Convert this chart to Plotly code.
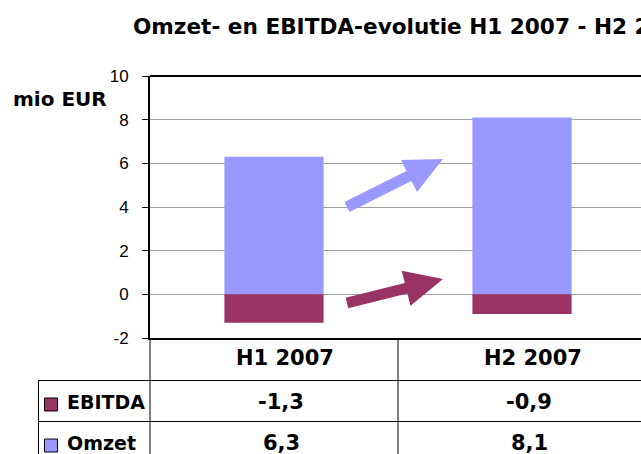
import plotly.graph_objects as go

# ---- data ----
categories = ["H1 2007", "H2 2007"]
ebitda = [-1.3, -0.9]
omzet = [6.3, 8.1]
series_names = ["EBITDA", "Omzet"]
y_ticks = [-2, 0, 2, 4, 6, 8, 10]

title_text = "Omzet- en EBITDA-evolutie H1 2007 - H2 2007"
y_unit = "mio EUR"

C_OMZET = "#9999FF"
C_EBITDA = "#993366"

W, H = 641, 454
PL, PR, PT, PB = 150, 641, 76, 338  # plot-area pixel box
CAT_PX = 248  # pixel width of one category


def pxx(px):
    return (px - PL) / (PR - PL)


def pxy(py):
    return (PB - py) / (PB - PT)


fig = go.Figure()
fig.add_trace(go.Bar(x=categories, y=omzet, name="Omzet", marker_color=C_OMZET,
                     marker_line_width=0, width=0.4, showlegend=False))
fig.add_trace(go.Bar(x=categories, y=ebitda, name="EBITDA", marker_color=C_EBITDA,
                     marker_line_width=0, width=0.4, showlegend=False))

x_max = -0.5 + (PR - PL) / CAT_PX

fig.update_layout(
    width=W, height=H,
    margin=dict(l=PL, r=W - PR, t=PT, b=H - PB, pad=0),
    paper_bgcolor="white", plot_bgcolor="white",
    barmode="relative",
    showlegend=False,
    xaxis=dict(type="category", range=[-0.5, x_max], showticklabels=False,
               showgrid=False, zeroline=False, showline=True,
               linecolor="black", linewidth=2, ticks=""),
    yaxis=dict(range=[-2, 10], tickvals=y_ticks, ticktext=[str(t) for t in y_ticks],
               ticks="outside", ticklen=6,
               tickcolor="black", tickwidth=1, showline=True, linecolor="black",
               linewidth=2, showgrid=True, gridcolor="#A0A0A0", gridwidth=1,
               zeroline=False, ticklabelstandoff=10,
               tickfont=dict(family="Liberation Sans, Arial", size=17, color="black")),
)

shapes = []
# top border of plot area
shapes.append(dict(type="line", xref="paper", yref="paper", x0=0, x1=1.02, y0=1, y1=1,
                   line=dict(color="black", width=2)))


# arrows (decorative)
def arrow(points, color):
    d = "M " + " L ".join(f"{pxx(x):.5f},{pxy(y):.5f}" for x, y in points) + " Z"
    return dict(type="path", xref="paper", yref="paper", path=d,
                fillcolor=color, line=dict(width=0), layer="above")


shapes.append(arrow([(344.5, 202.1), (406.5, 171.1), (401, 160), (443, 159),
                     (417, 192), (411.5, 180.9), (349.5, 211.9)], C_OMZET))
shapes.append(arrow([(345.7, 297.7), (404.8, 282.9), (401.7, 270.7), (443, 279),
                     (410.5, 305.7), (407.4, 293.5), (348.3, 308.3)], C_EBITDA))

# data table grid
tl = dict(color="black", width=1)
shapes.append(dict(type="line", xref="paper", yref="paper", x0=pxx(150), x1=pxx(150),
                   y0=pxy(338), y1=pxy(470), line=tl))
shapes.append(dict(type="line", xref="paper", yref="paper", x0=pxx(PL + CAT_PX), x1=pxx(PL + CAT_PX),
                   y0=pxy(338), y1=pxy(470), line=tl))
shapes.append(dict(type="line", xref="paper", yref="paper", x0=pxx(38.5), x1=pxx(38.5),
                   y0=pxy(380), y1=pxy(470), line=tl))
for yy in (380.5, 421.5):
    shapes.append(dict(type="line", xref="paper", yref="paper", x0=pxx(38), x1=1.02,
                       y0=pxy(yy), y1=pxy(yy), line=tl))

# legend keys in table
row_y = {"EBITDA": 401.5, "Omzet": 442.5}
row_col = {"EBITDA": C_EBITDA, "Omzet": C_OMZET}
for nm in series_names:
    cy = row_y[nm]
    shapes.append(dict(type="rect", xref="paper", yref="paper",
                       x0=pxx(44.5), x1=pxx(57.5), y0=pxy(cy - 6.5 + 3), y1=pxy(cy + 6.5 + 3),
                       fillcolor=row_col[nm], line=dict(color="black", width=1)))

fig.update_layout(shapes=shapes)

bold = "DejaVu Sans, Verdana, sans-serif"
ann = []
ann.append(dict(xref="paper", yref="paper", x=pxx(131), y=pxy(26), xanchor="left",
                yanchor="middle", showarrow=False, text=f"<b>{title_text}</b>",
                font=dict(family=bold, size=21.6, color="black")))
ann.append(dict(xref="paper", yref="paper", x=pxx(11), y=pxy(98.5), xanchor="left",
                yanchor="middle", showarrow=False, text=f"<b>{y_unit}</b>",
                font=dict(family=bold, size=20, color="black")))

for c in categories:
    ann.append(dict(xref="x", yref="paper", x=c, xshift=11, y=pxy(357.5),
                    xanchor="center", yanchor="middle", showarrow=False,
                    text=f"<b>{c}</b>", font=dict(family=bold, size=21, color="black")))

vals = {"EBITDA": ebitda, "Omzet": omzet}
for nm in series_names:
    ann.append(dict(xref="paper", yref="paper", x=pxx(65), y=pxy(row_y[nm]),
                    xanchor="left", yanchor="middle", showarrow=False,
                    text=f"<b>{nm}</b>", font=dict(family=bold, size=19, color="black")))
    for c, v in zip(categories, vals[nm]):
        ann.append(dict(xref="x", yref="paper", x=c, xshift=7, y=pxy(row_y[nm]),
                        xanchor="center", yanchor="middle", showarrow=False,
                        text="<b>" + f"{v:.1f}".replace(".", ",") + "</b>",
                        font=dict(family=bold, size=21, color="black")))

fig.update_layout(annotations=ann)
# remove the page's default 8px body margin so the figure fills the window
fig.write_html("out.html", config={"displayModeBar": False},
               post_script="document.body.style.margin='0';")
